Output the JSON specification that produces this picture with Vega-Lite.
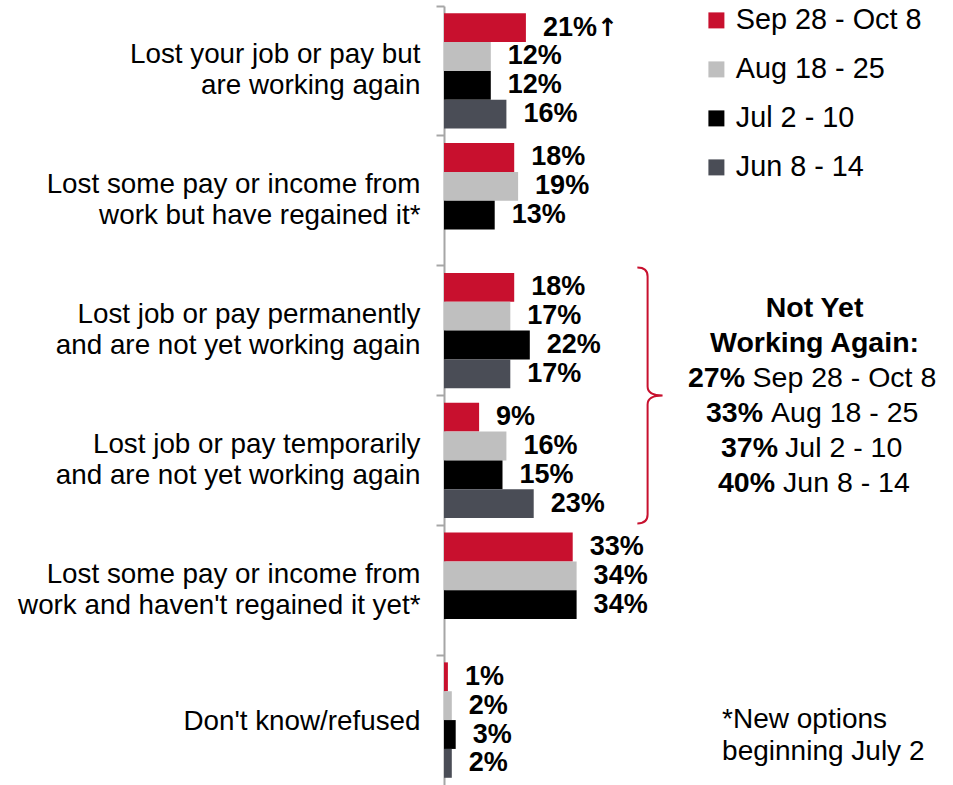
{
  "$schema": "https://vega.github.io/schema/vega-lite/v6.json",
  "width": 509,
  "height": 779,
  "autosize": {"type": "none"},
  "padding": {"left": 444, "top": 6, "right": 0, "bottom": 0},
  "background": "white",
  "config": {"view": {"stroke": null}, "font": "Liberation Sans"},
  "data": {"values": [
    {"category": "Lost your job or pay but\nare working again", "period": "Sep 28 - Oct 8", "value": 21, "label": "21%"},
    {"category": "Lost your job or pay but\nare working again", "period": "Aug 18 - 25", "value": 12, "label": "12%"},
    {"category": "Lost your job or pay but\nare working again", "period": "Jul 2 - 10", "value": 12, "label": "12%"},
    {"category": "Lost your job or pay but\nare working again", "period": "Jun 8 - 14", "value": 16, "label": "16%"},
    {"category": "Lost some pay or income from\nwork but have regained it*", "period": "Sep 28 - Oct 8", "value": 18, "label": "18%"},
    {"category": "Lost some pay or income from\nwork but have regained it*", "period": "Aug 18 - 25", "value": 19, "label": "19%"},
    {"category": "Lost some pay or income from\nwork but have regained it*", "period": "Jul 2 - 10", "value": 13, "label": "13%"},
    {"category": "Lost job or pay permanently\nand are not yet working again", "period": "Sep 28 - Oct 8", "value": 18, "label": "18%"},
    {"category": "Lost job or pay permanently\nand are not yet working again", "period": "Aug 18 - 25", "value": 17, "label": "17%"},
    {"category": "Lost job or pay permanently\nand are not yet working again", "period": "Jul 2 - 10", "value": 22, "label": "22%"},
    {"category": "Lost job or pay permanently\nand are not yet working again", "period": "Jun 8 - 14", "value": 17, "label": "17%"},
    {"category": "Lost job or pay temporarily\nand are not yet working again", "period": "Sep 28 - Oct 8", "value": 9, "label": "9%"},
    {"category": "Lost job or pay temporarily\nand are not yet working again", "period": "Aug 18 - 25", "value": 16, "label": "16%"},
    {"category": "Lost job or pay temporarily\nand are not yet working again", "period": "Jul 2 - 10", "value": 15, "label": "15%"},
    {"category": "Lost job or pay temporarily\nand are not yet working again", "period": "Jun 8 - 14", "value": 23, "label": "23%"},
    {"category": "Lost some pay or income from\nwork and haven't regained it yet*", "period": "Sep 28 - Oct 8", "value": 33, "label": "33%"},
    {"category": "Lost some pay or income from\nwork and haven't regained it yet*", "period": "Aug 18 - 25", "value": 34, "label": "34%"},
    {"category": "Lost some pay or income from\nwork and haven't regained it yet*", "period": "Jul 2 - 10", "value": 34, "label": "34%"},
    {"category": "Don't know/refused", "period": "Sep 28 - Oct 8", "value": 1, "label": "1%"},
    {"category": "Don't know/refused", "period": "Aug 18 - 25", "value": 2, "label": "2%"},
    {"category": "Don't know/refused", "period": "Jul 2 - 10", "value": 3, "label": "3%"},
    {"category": "Don't know/refused", "period": "Jun 8 - 14", "value": 2, "label": "2%"}
  ]},
  "layer": [
    {
      "mark": {"type": "bar"},
      "encoding": {
        "y": {
          "field": "category", "type": "nominal",
          "scale": {
            "domain": [
              "Lost your job or pay but\nare working again",
              "Lost some pay or income from\nwork but have regained it*",
              "Lost job or pay permanently\nand are not yet working again",
              "Lost job or pay temporarily\nand are not yet working again",
              "Lost some pay or income from\nwork and haven't regained it yet*",
              "Don't know/refused"
            ],
            "paddingInner": 0, "paddingOuter": 0
          },
          "axis": {
            "title": null,
            "domainColor": "#A6A6A6", "domainWidth": 2,
            "tickColor": "#A6A6A6", "tickWidth": 2, "tickSize": 8,
            "bandPosition": 0,
            "labelFont": "Liberation Sans", "labelFontSize": 27.8, "labelColor": "#000000",
            "labelPadding": 16, "labelLimit": 600, "labelLineHeight": 31,
            "labelAlign": "right", "labelBaseline": "middle",
            "labelOffset": {"condition": {"test": "indexof(datum.value, 'refused') >= 0", "value": 2}, "value": -15.5},
            "labelExpr": "split(datum.label, '\\n')"
          }
        },
        "yOffset": {
          "field": "period", "type": "nominal",
          "scale": {"domain": ["Sep 28 - Oct 8", "Aug 18 - 25", "Jul 2 - 10", "Jun 8 - 14"], "paddingInner": 0, "paddingOuter": 0.25}
        },
        "x": {"field": "value", "type": "quantitative", "scale": {"domain": [0, 130.5], "nice": false}, "axis": null},
        "color": {
          "field": "period", "type": "nominal",
          "scale": {"domain": ["Sep 28 - Oct 8", "Aug 18 - 25", "Jul 2 - 10", "Jun 8 - 14"], "range": ["#C8102E", "#BFBFBF", "#000000", "#4A4D56"]},
          "legend": {
            "orient": "none", "legendX": 258, "legendY": 0, "title": null,
            "symbolType": "square", "symbolSize": 256, "symbolStrokeWidth": 0,
            "labelFont": "Liberation Sans", "labelFontSize": 28.8, "labelColor": "#000000",
            "labelOffset": 5, "rowPadding": 19, "labelLimit": 600
          }
        }
      }
    },
    {
      "mark": {"type": "text", "align": "left", "baseline": "middle", "dx": 17, "font": "Liberation Sans", "fontSize": 27, "fontWeight": "bold", "color": "#000000"},
      "encoding": {
        "y": {"field": "category", "type": "nominal"},
        "yOffset": {"field": "period", "type": "nominal"},
        "x": {"field": "value", "type": "quantitative"},
        "text": {"field": "label"}
      }
    },
    {
      "data": {"values": [{"t": "↑"}]},
      "mark": {"type": "text", "align": "left", "baseline": "middle", "dx": 71, "dy": 0, "font": "DejaVu Sans", "fontSize": 25, "fontWeight": "bold", "color": "#000000"},
      "encoding": {
        "x": {"datum": 21, "type": "quantitative"},
        "y": {"datum": "Lost your job or pay but\nare working again", "type": "nominal"},
        "yOffset": {"datum": "Sep 28 - Oct 8", "type": "nominal"},
        "text": {"field": "t"}
      }
    },
    {
      "data": {"values": [{"a": 1}]},
      "mark": {"type": "point", "shape": "M -0.08 -1 Q 0 -1 0 -0.93 L 0 -0.07 Q 0 0 0.117 0 Q 0 0 0 0.07 L 0 0.93 Q 0 1 -0.08 1", "size": 65536, "filled": false, "opacity": 1, "color": "#C8102E", "strokeWidth": 2},
      "encoding": {
        "x": {"datum": 52.2, "type": "quantitative"},
        "y": {"datum": "Lost job or pay temporarily\nand are not yet working again", "type": "nominal", "bandPosition": 0}
      }
    },
    {
      "data": {"values": [{"t": ["Not Yet", "Working Again:"]}]},
      "mark": {"type": "text", "align": "center", "baseline": "middle", "dy": -87.5, "lineHeight": 35, "font": "Liberation Sans", "fontSize": 28.5, "fontWeight": "bold", "color": "#000000"},
      "encoding": {
        "x": {"datum": 95, "type": "quantitative"},
        "y": {"datum": "Lost job or pay temporarily\nand are not yet working again", "type": "nominal", "bandPosition": 0},
        "text": {"field": "t"}
      }
    },
    {
      "data": {"values": [{"t": "27%"}]},
      "mark": {"type": "text", "align": "right", "baseline": "middle", "dx": -69.5, "dy": -18, "font": "Liberation Sans", "fontSize": 28.5, "fontWeight": "bold", "color": "#000000"},
      "encoding": {"x": {"datum": 95, "type": "quantitative"}, "y": {"datum": "Lost job or pay temporarily\nand are not yet working again", "type": "nominal", "bandPosition": 0}, "text": {"field": "t"}}
    },
    {
      "data": {"values": [{"t": "Sep 28 - Oct 8"}]},
      "mark": {"type": "text", "align": "left", "baseline": "middle", "dx": -62, "dy": -18, "font": "Liberation Sans", "fontSize": 28.5, "color": "#000000"},
      "encoding": {"x": {"datum": 95, "type": "quantitative"}, "y": {"datum": "Lost job or pay temporarily\nand are not yet working again", "type": "nominal", "bandPosition": 0}, "text": {"field": "t"}}
    },
    {
      "data": {"values": [{"t": "33%"}]},
      "mark": {"type": "text", "align": "right", "baseline": "middle", "dx": -51.5, "dy": 17, "font": "Liberation Sans", "fontSize": 28.5, "fontWeight": "bold", "color": "#000000"},
      "encoding": {"x": {"datum": 95, "type": "quantitative"}, "y": {"datum": "Lost job or pay temporarily\nand are not yet working again", "type": "nominal", "bandPosition": 0}, "text": {"field": "t"}}
    },
    {
      "data": {"values": [{"t": "Aug 18 - 25"}]},
      "mark": {"type": "text", "align": "left", "baseline": "middle", "dx": -43.5, "dy": 17, "font": "Liberation Sans", "fontSize": 28.5, "color": "#000000"},
      "encoding": {"x": {"datum": 95, "type": "quantitative"}, "y": {"datum": "Lost job or pay temporarily\nand are not yet working again", "type": "nominal", "bandPosition": 0}, "text": {"field": "t"}}
    },
    {
      "data": {"values": [{"t": "37%"}]},
      "mark": {"type": "text", "align": "right", "baseline": "middle", "dx": -36.5, "dy": 52, "font": "Liberation Sans", "fontSize": 28.5, "fontWeight": "bold", "color": "#000000"},
      "encoding": {"x": {"datum": 95, "type": "quantitative"}, "y": {"datum": "Lost job or pay temporarily\nand are not yet working again", "type": "nominal", "bandPosition": 0}, "text": {"field": "t"}}
    },
    {
      "data": {"values": [{"t": "Jul 2 - 10"}]},
      "mark": {"type": "text", "align": "left", "baseline": "middle", "dx": -29.5, "dy": 52, "font": "Liberation Sans", "fontSize": 28.5, "color": "#000000"},
      "encoding": {"x": {"datum": 95, "type": "quantitative"}, "y": {"datum": "Lost job or pay temporarily\nand are not yet working again", "type": "nominal", "bandPosition": 0}, "text": {"field": "t"}}
    },
    {
      "data": {"values": [{"t": "40%"}]},
      "mark": {"type": "text", "align": "right", "baseline": "middle", "dx": -39.5, "dy": 87, "font": "Liberation Sans", "fontSize": 28.5, "fontWeight": "bold", "color": "#000000"},
      "encoding": {"x": {"datum": 95, "type": "quantitative"}, "y": {"datum": "Lost job or pay temporarily\nand are not yet working again", "type": "nominal", "bandPosition": 0}, "text": {"field": "t"}}
    },
    {
      "data": {"values": [{"t": "Jun 8 - 14"}]},
      "mark": {"type": "text", "align": "left", "baseline": "middle", "dx": -31.5, "dy": 87, "font": "Liberation Sans", "fontSize": 28.5, "color": "#000000"},
      "encoding": {"x": {"datum": 95, "type": "quantitative"}, "y": {"datum": "Lost job or pay temporarily\nand are not yet working again", "type": "nominal", "bandPosition": 0}, "text": {"field": "t"}}
    },
    {
      "data": {"values": [{"t": ["*New options", "beginning July 2"]}]},
      "mark": {"type": "text", "align": "left", "baseline": "middle", "dy": 0, "lineHeight": 32, "font": "Liberation Sans", "fontSize": 28, "color": "#000000"},
      "encoding": {"x": {"datum": 71.3, "type": "quantitative"}, "y": {"datum": "Don't know/refused", "type": "nominal"}, "text": {"field": "t"}}
    }
  ]
}
